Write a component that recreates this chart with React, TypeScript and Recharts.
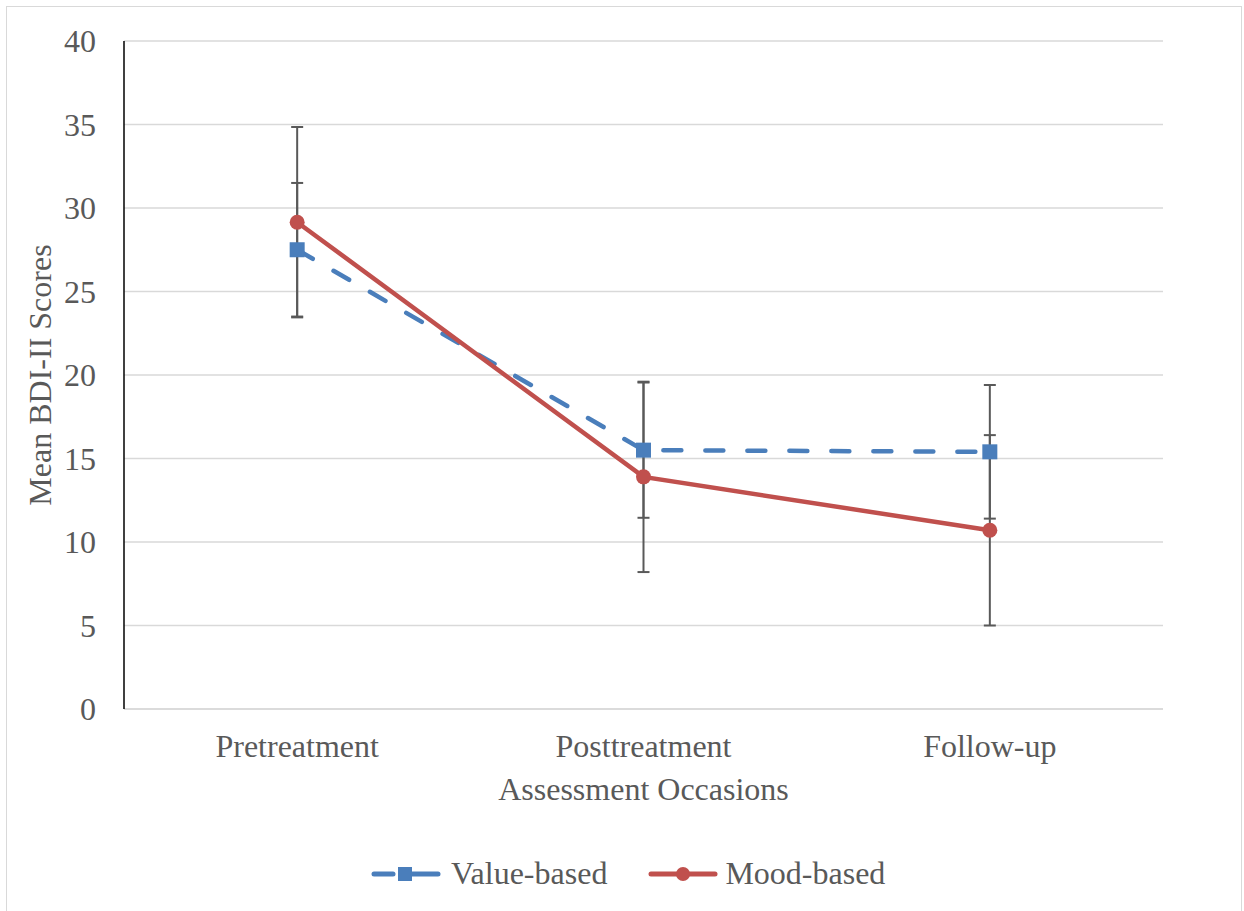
import React from 'react';
import { LineChart, Line, XAxis, YAxis, CartesianGrid, ErrorBar } from 'recharts';

const categories = ['Pretreatment', 'Posttreatment', 'Follow-up'];
const valueBased = [27.5, 15.5, 15.4];
const valueBasedErr = [4.0, 4.05, 4.0];
const moodBased = [29.15, 13.9, 10.7];
const moodBasedErr = [5.7, 5.7, 5.7];
const yTicks = [0, 5, 10, 15, 20, 25, 30, 35, 40];

const data = categories.map((name, i) => ({
  name,
  value: valueBased[i],
  valueErr: valueBasedErr[i],
  mood: moodBased[i],
  moodErr: moodBasedErr[i],
}));

const FONT = '"Liberation Serif", "Times New Roman", serif';
const TEXT = '#595959';
const BLUE = '#4a7ebb';
const RED = '#c0504d';

const SquareDot = (props: any) => {
  const { cx, cy } = props;
  if (cx == null || cy == null) return null;
  return <rect x={cx - 7.5} y={cy - 7.5} width={15} height={15} fill={BLUE} />;
};

const CircleDot = (props: any) => {
  const { cx, cy } = props;
  if (cx == null || cy == null) return null;
  return <circle cx={cx} cy={cy} r={7.5} fill={RED} />;
};

const LegendItem = ({ kind, label }: { kind: 'value' | 'mood'; label: string }) => (
  <div style={{ display: 'flex', alignItems: 'center' }}>
    <svg width={70} height={20} style={{ marginRight: kind === 'value' ? 10 : 7 }}>
      {kind === 'value' ? (
        <>
          <line x1={3} y1={10} x2={22} y2={10} stroke={BLUE} strokeWidth={5} strokeLinecap="round" />
          <line x1={40} y1={10} x2={67} y2={10} stroke={BLUE} strokeWidth={5} strokeLinecap="round" />
          <rect x={27} y={3} width={14} height={14} fill={BLUE} />
        </>
      ) : (
        <>
          <line x1={3} y1={10} x2={67} y2={10} stroke={RED} strokeWidth={5} strokeLinecap="round" />
          <circle cx={35} cy={10} r={7} fill={RED} />
        </>
      )}
    </svg>
    <span style={{ fontFamily: FONT, fontSize: 32, color: TEXT }}>{label}</span>
  </div>
);

export default function App() {
  return (
    <div style={{ position: 'absolute', left: 0, top: 0, width: 1244, height: 911, overflow: 'hidden', background: '#fff' }}>
      <div
        style={{
          position: 'absolute',
          left: 6,
          top: 6,
          width: 1236,
          height: 920,
          border: '1.5px solid #d9d9d9',
          boxSizing: 'border-box',
        }}
      />
      <div style={{ position: 'absolute', left: 0, top: 0 }}>
        <LineChart
          width={1244}
          height={911}
          data={data}
          margin={{ top: 41, right: 81, left: 14, bottom: 107 }}
        >
          <CartesianGrid vertical={false} stroke="#d9d9d9" strokeWidth={1.5} />
          <XAxis
            dataKey="name"
            scale="band"
            height={95}
            axisLine={{ stroke: '#d9d9d9', strokeWidth: 1.5 }}
            tickLine={false}
            tickSize={0}
            tickMargin={25}
            tick={{ fill: TEXT, fontSize: 32, fontFamily: FONT }}
            label={{
              value: 'Assessment Occasions',
              position: 'insideBottom',
              offset: 4,
              style: { fill: TEXT, fontSize: 32, fontFamily: FONT },
            }}
          />
          <YAxis
            type="number"
            domain={[0, 40]}
            ticks={yTicks}
            width={110}
            axisLine={{ stroke: '#000', strokeWidth: 1.5 }}
            tickLine={false}
            tickSize={0}
            tickMargin={28}
            tick={{ fill: TEXT, fontSize: 32, fontFamily: FONT }}
            label={{
              value: 'Mean BDI-II Scores',
              angle: -90,
              position: 'insideLeft',
              offset: 26,
              style: { fill: TEXT, fontSize: 32, fontFamily: FONT, textAnchor: 'middle' },
            }}
          />
          <Line
            type="linear"
            dataKey="value"
            name="Value-based"
            stroke={BLUE}
            strokeWidth={4.5}
            strokeDasharray="18 24"
            strokeLinecap="round"
            dot={<SquareDot />}
            activeDot={false}
            isAnimationActive={false}
          >
            <ErrorBar dataKey="valueErr" width={6} stroke="#595959" strokeWidth={2} isAnimationActive={false} />
          </Line>
          <Line
            type="linear"
            dataKey="mood"
            name="Mood-based"
            stroke={RED}
            strokeWidth={4.5}
            strokeLinecap="round"
            dot={<CircleDot />}
            activeDot={false}
            isAnimationActive={false}
          >
            <ErrorBar dataKey="moodErr" width={6} stroke="#595959" strokeWidth={2} isAnimationActive={false} />
          </Line>
        </LineChart>
      </div>
      <div style={{ position: 'absolute', left: 371, top: 855, display: 'flex', alignItems: 'center', gap: 41 }}>
        <LegendItem kind="value" label="Value-based" />
        <LegendItem kind="mood" label="Mood-based" />
      </div>
    </div>
  );
}
